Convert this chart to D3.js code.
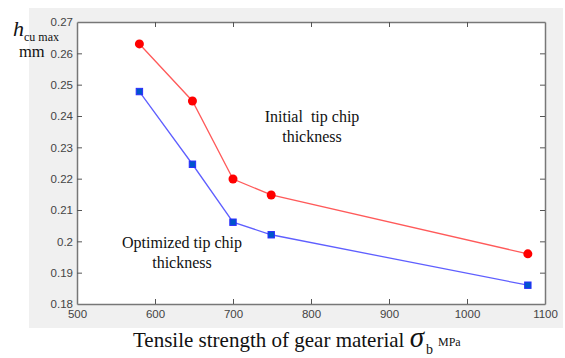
<!DOCTYPE html>
<html>
<head>
<meta charset="utf-8">
<script src="https://cdn.jsdelivr.net/npm/d3@7"></script>
<style>
  body { margin: 0; background: #fff; }
  svg { display: block; }
</style>
</head>
<body>
<div id="chart"></div>
<script>
// chart values
const strength = [580, 648, 700, 749, 1078];
const initialThickness = [0.263, 0.2448, 0.2199, 0.2148, 0.196];
const optimizedThickness = [0.2478, 0.2246, 0.2061, 0.2021, 0.186];
const xTicks = [500, 600, 700, 800, 900, 1000, 1100];
const yTicks = [0.18, 0.19, 0.2, 0.21, 0.22, 0.23, 0.24, 0.25, 0.26, 0.27];

const W = 565, H = 358;
const margin = { top: 22, right: 20, bottom: 54, left: 77 };
const width = W - margin.left - margin.right;
const height = H - margin.top - margin.bottom;

const root = d3.select('#chart').append('svg').attr('width', W).attr('height', H);

// grey figure panel
root.append('rect').attr('x', 29).attr('y', 8).attr('width', 534).attr('height', 320).attr('fill', '#f0f0f0');

const svg = root.append('g').attr('transform', `translate(${margin.left},${margin.top})`);

const x = d3.scaleLinear().domain([500, 1100]).range([0, width]);
const y = d3.scaleLinear().domain([0.18, 0.27]).range([height, 0]);

svg.append('rect').attr('width', width).attr('height', height).attr('fill', '#fff');

const fmt = d => (d === 0.2 ? '0.2' : d3.format('.2f')(d));

function styleAxis(g) {
  g.select('.domain').attr('stroke', '#777').attr('stroke-width', 1.5);
  g.selectAll('.tick line').attr('stroke', '#555');
  g.selectAll('.tick text').attr('fill', '#444').style('font-family', 'Liberation Sans, Arial, sans-serif').style('font-size', '11.5px');
}

svg.append('g').attr('transform', `translate(0,${height})`)
  .call(d3.axisBottom(x).tickValues(xTicks).tickSize(-5).tickPadding(6).tickFormat(d3.format('d')).tickSizeOuter(0))
  .call(styleAxis);
svg.append('g')
  .call(d3.axisTop(x).tickValues(xTicks).tickSize(-5).tickFormat('').tickSizeOuter(0))
  .call(styleAxis);
svg.append('g')
  .call(d3.axisLeft(y).tickValues(yTicks).tickSize(-5).tickPadding(4).tickFormat(fmt).tickSizeOuter(0))
  .call(styleAxis);
svg.append('g').attr('transform', `translate(${width},0)`)
  .call(d3.axisRight(y).tickValues(yTicks).tickSize(-5).tickFormat('').tickSizeOuter(0))
  .call(styleAxis);

// hide end ticks that sit on the frame
svg.selectAll('.tick line').filter(d => d === 500 || d === 1100 || d === 0.18 || d === 0.27).remove();

const line = d3.line().x(d => x(d[0])).y(d => y(d[1]));
const initial = strength.map((s, i) => [s, initialThickness[i]]);
const optimized = strength.map((s, i) => [s, optimizedThickness[i]]);

svg.append('path').datum(initial).attr('d', line).attr('fill', 'none').attr('stroke', '#ff5a5a').attr('stroke-width', 1.3);
svg.append('path').datum(optimized).attr('d', line).attr('fill', 'none').attr('stroke', '#5f5fff').attr('stroke-width', 1.3);

svg.selectAll('.red-pt').data(initial).enter().append('circle')
  .attr('cx', d => x(d[0])).attr('cy', d => y(d[1])).attr('r', 4.5).attr('fill', '#ff0000');

svg.selectAll('.blue-pt').data(optimized).enter().append('rect')
  .attr('x', d => x(d[0]) - 3.2).attr('y', d => y(d[1]) - 3.2).attr('width', 6.4).attr('height', 6.4)
  .attr('fill', '#0055cc').attr('stroke', '#2b2bff').attr('stroke-width', 1);

// annotations
const serif = 'Liberation Serif, Times New Roman, serif';
const note = (tx, ty, lines) => {
  const t = root.append('text').attr('x', tx).attr('y', ty).attr('text-anchor', 'middle')
    .style('font-family', serif).style('font-size', '16px').attr('fill', '#111');
  lines.forEach((l, i) => t.append('tspan').attr('x', tx).attr('dy', i ? 19.5 : 0).text(l));
};
note(312, 122, ['Initial\u00a0\u00a0tip chip', 'thickness']);
note(182, 248, ['Optimized tip chip', 'thickness']);

// y label
root.append('text').attr('x', 13).attr('y', 36).style('font-family', serif).style('font-size', '22px')
  .style('font-style', 'italic').attr('fill', '#111').text('h');
root.append('text').attr('x', 24).attr('y', 41).style('font-family', serif).style('font-size', '12px')
  .attr('fill', '#111').text('cu max');
root.append('text').attr('x', 19).attr('y', 57).style('font-family', serif).style('font-size', '16.5px')
  .attr('fill', '#111').text('mm');

// x label
const xl = root.append('text').attr('x', 133).attr('y', 347).style('font-family', serif).style('font-size', '21px').attr('fill', '#111');
xl.append('tspan').text('Tensile strength of gear material ');
xl.append('tspan').style('font-style', 'italic').style('font-size', '29px').text('σ');
xl.append('tspan').style('font-size', '14px').attr('dy', 7).attr('dx', 2).text('b');
xl.append('tspan').style('font-size', '12px').attr('dy', -8).attr('dx', 5).text('MPa');
</script>
</body>
</html>
